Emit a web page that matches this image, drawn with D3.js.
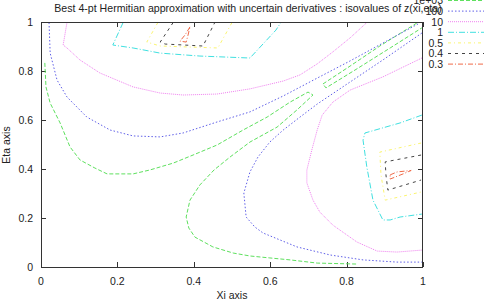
<!DOCTYPE html>
<html>
<head>
<meta charset="utf-8">
<script src="https://cdn.jsdelivr.net/npm/d3@7"></script>
<style>
body { margin: 0; background: #fff; }
text { font-family: "Liberation Sans", Arial, sans-serif; fill: #222; }
</style>
</head>
<body>
<div id="chart"></div>
<script>
// isovalue levels (legend order)
var levels = ["1e+03", "100", "10", "1", "0.5", "0.4", "0.3"];
var xTicks = [0, 0.2, 0.4, 0.6, 0.8, 1];
var yTicks = [0, 0.2, 0.4, 0.6, 0.8, 1];

// contour polylines, [xi, eta]
var iso1000 = [
	[[.010,.833],[.013,.735],[.024,.669],[.050,.588],[.076,.490],[.102,.437],[.141,.404],[.173,.380],[.241,.380],[.285,.396],[.346,.424],[.398,.457],[.461,.498],[.529,.559],[.592,.612],[.652,.673],[.699,.714],[.712,.702],[.670,.641],[.618,.571],[.547,.510],[.495,.449],[.453,.396],[.416,.335],[.390,.273],[.380,.204],[.387,.159],[.403,.122],[.450,.082],[.503,.057],[.547,.045],[.599,.037],[.652,.029],[.723,.016],[.827,.012]],
	[[.984,.996],[.887,.902],[.809,.820],[.738,.747],[.746,.731],[.822,.804],[.914,.894],[.997,.976]]
];
var iso100 = [
	[[.021,.998],[.024,.873],[.042,.763],[.068,.694],[.120,.612],[.181,.559],[.241,.535],[.312,.531],[.372,.547],[.461,.592],[.547,.633],[.634,.698],[.723,.771],[.809,.841],[.895,.914],[.987,.992]],
	[[.997,.955],[.895,.845],[.809,.755],[.723,.665],[.678,.612],[.634,.559],[.599,.510],[.568,.449],[.547,.388],[.531,.302],[.537,.204],[.560,.163],[.581,.139],[.670,.082],[.757,.049],[.843,.029],[.932,.020],[.997,.020]]
];
var iso10 = [
	[[.068,.998],[.058,.906],[.068,.894],[.102,.845],[.154,.792],[.241,.735],[.312,.710],[.372,.702],[.461,.706],[.547,.727],[.634,.759],[.678,.784],[.723,.829],[.764,.878],[.809,.935],[.853,.998]],
	[[.997,.853],[.895,.776],[.809,.722],[.764,.673],[.736,.620],[.723,.559],[.709,.478],[.696,.396],[.696,.343],[.712,.273],[.730,.224],[.764,.171],[.827,.102],[.880,.065],[.932,.061],[.997,.069]]
];
var iso1 = [
	[[.215,.998],[.188,.906],[.241,.894],[.312,.873],[.416,.861],[.547,.853],[.615,.967],[.628,.998]],
	[[.997,.620],[.940,.588],[.848,.547],[.843,.518],[.853,.408],[.869,.273],[.895,.192],[.914,.192],[.940,.204],[.997,.216]]
];
var iso05 = [
	[[.306,.998],[.277,.918],[.312,.902],[.463,.894],[.500,.998]],
	[[.995,.506],[.887,.469],[.890,.376],[.901,.273],[.995,.306]]
];
var iso04 = [
	[[.346,.998],[.312,.918],[.325,.910],[.424,.902],[.455,.998]],
	[[.995,.457],[.901,.429],[.903,.376],[.908,.314],[.995,.355]]
];
var iso03 = [
	[[.390,.980],[.377,.947],[.364,.922],[.380,.918],[.385,.947],[.390,.980]],
	[[.914,.376],[.932,.388],[.969,.394],[.948,.380],[.914,.359],[.914,.376]]
];

var series = [iso1000, iso100, iso10, iso1, iso05, iso04, iso03];
var colors = ["#5ee05e", "#6060e8", "#f080f0", "#40e0e0", "#fbf570", "#444444", "#f06a48"];
var dashes = ["4,2", "1.5,2", "1,1", "6,2,1,2", "3,3,1,3", "3,4", "5,2,1,2"];

var width = 484, height = 303;
var margin = {top: 22, right: 61, bottom: 36, left: 41};

var svg = d3.select("#chart").append("svg")
	.attr("width", width)
	.attr("height", height);

var x = d3.scaleLinear().domain([0, 1]).range([margin.left, width - margin.right]);
var y = d3.scaleLinear().domain([0, 1]).range([height - margin.bottom, margin.top]);

svg.append("clipPath").attr("id", "clip")
	.append("rect")
	.attr("x", x(0)).attr("y", y(1))
	.attr("width", x(1) - x(0)).attr("height", y(0) - y(1));

// ticks on all four sides, pointing in
var tickLen = 5;
var g = svg.append("g").attr("stroke", "#333").attr("stroke-width", 1);
xTicks.forEach(function(t) {
	g.append("line").attr("x1", Math.round(x(t)) + 0.5).attr("x2", Math.round(x(t)) + 0.5)
		.attr("y1", y(0)).attr("y2", y(0) - tickLen);
	g.append("line").attr("x1", Math.round(x(t)) + 0.5).attr("x2", Math.round(x(t)) + 0.5)
		.attr("y1", y(1)).attr("y2", y(1) + tickLen);
});
yTicks.forEach(function(t) {
	g.append("line").attr("y1", Math.round(y(t)) + 0.5).attr("y2", Math.round(y(t)) + 0.5)
		.attr("x1", x(0)).attr("x2", x(0) + tickLen);
	g.append("line").attr("y1", Math.round(y(t)) + 0.5).attr("y2", Math.round(y(t)) + 0.5)
		.attr("x1", x(1)).attr("x2", x(1) - tickLen);
});

svg.selectAll(".xlab").data(xTicks).enter().append("text")
	.attr("x", function(d) { return x(d); })
	.attr("y", y(0) + 18)
	.attr("text-anchor", "middle")
	.style("font-size", "10.5px")
	.text(function(d) { return d; });

svg.selectAll(".ylab").data(yTicks).enter().append("text")
	.attr("x", x(0) - 8)
	.attr("y", function(d) { return y(d) + 4; })
	.attr("text-anchor", "end")
	.style("font-size", "10.5px")
	.text(function(d) { return d; });

var line = d3.line()
	.x(function(d) { return x(d[0]); })
	.y(function(d) { return y(d[1]); });

var plot = svg.append("g").attr("clip-path", "url(#clip)");
series.forEach(function(s, i) {
	plot.selectAll(".c" + i).data(s).enter().append("path")
		.attr("d", line)
		.attr("fill", "none")
		.attr("stroke", colors[i])
		.attr("stroke-width", 1)
		.attr("stroke-dasharray", dashes[i]);
});

// frame
svg.append("rect")
	.attr("x", x(0) + 0.5).attr("y", y(1) + 0.5)
	.attr("width", x(1) - x(0) - 1).attr("height", y(0) - y(1))
	.attr("fill", "none")
	.attr("stroke", "#333")
	.attr("stroke-width", 1);

// legend, top right (first entry partly cut by the title area)
var legend = svg.append("g");
levels.forEach(function(l, i) {
	var ly = 0.5 + i * 10.6;
	legend.append("text")
		.attr("x", 443)
		.attr("y", ly + 3.8)
		.attr("text-anchor", "end")
		.style("font-size", "10.5px")
		.text(l);
	legend.append("line")
		.attr("x1", 448).attr("x2", 500)
		.attr("y1", ly).attr("y2", ly)
		.attr("stroke", colors[i])
		.attr("stroke-width", 1)
		.attr("stroke-dasharray", dashes[i]);
});

svg.append("text")
	.attr("x", 248)
	.attr("y", 12)
	.attr("text-anchor", "middle")
	.style("font-size", "10.6px")
	.text("Best 4-pt Hermitian approximation with uncertain derivatives : isovalues of z(xi,eta)");

svg.append("text")
	.attr("x", 232)
	.attr("y", 299)
	.attr("text-anchor", "middle")
	.style("font-size", "10.5px")
	.text("Xi axis");

svg.append("text")
	.attr("transform", "translate(10,145) rotate(-90)")
	.attr("text-anchor", "middle")
	.style("font-size", "10.5px")
	.text("Eta axis");
</script>
</body>
</html>
